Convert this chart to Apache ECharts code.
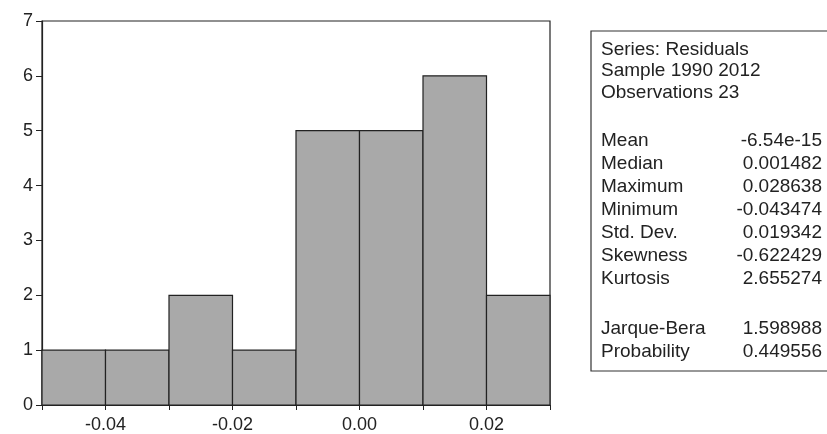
<!DOCTYPE html>
<html>
<head>
<meta charset="utf-8">
<script src="https://cdn.jsdelivr.net/npm/echarts@6/dist/echarts.min.js"></script>
<style>
  html, body { margin: 0; padding: 0; background: #fff; }
  #chart { width: 827px; height: 434px; }
</style>
</head>
<body>
<div id="chart"></div>
<script>
// histogram bins (left edges) and counts
var binStart = [-0.05, -0.04, -0.03, -0.02, -0.01, 0.00, 0.01, 0.02];
var binWidth = 0.01;
var counts = [1, 1, 2, 1, 5, 5, 6, 2];

// statistics box
var headerLines = ['Series: Residuals', 'Sample 1990 2012', 'Observations 23'];
var statLabels = ['Mean', 'Median', 'Maximum', 'Minimum', 'Std. Dev.', 'Skewness', 'Kurtosis'];
var statValues = ['-6.54e-15', '0.001482', '0.028638', '-0.043474', '0.019342', '-0.622429', '2.655274'];
var testLabels = ['Jarque-Bera', 'Probability'];
var testValues = ['1.598988', '0.449556'];

var chart = echarts.init(document.getElementById('chart'));

var font = 'Liberation Sans, Arial, sans-serif';
var txt = { fill: '#222', font: '19px ' + font };

var graphics = [{
  type: 'rect',
  shape: { x: 591, y: 31, width: 245, height: 340 },
  style: { fill: 'none', stroke: '#333', lineWidth: 1.2 }
}];
headerLines.forEach(function (s, i) {
  graphics.push({ type: 'text', left: 601, top: 40 + i * 21.5, style: Object.assign({ text: s }, txt) });
});
statLabels.forEach(function (s, i) {
  graphics.push({ type: 'text', left: 601, top: 131 + i * 23, style: Object.assign({ text: s }, txt) });
  graphics.push({ type: 'text', right: 5, top: 131 + i * 23, style: Object.assign({ text: statValues[i], textAlign: 'right' }, txt) });
});
testLabels.forEach(function (s, i) {
  graphics.push({ type: 'text', left: 601, top: 319 + i * 23, style: Object.assign({ text: s }, txt) });
  graphics.push({ type: 'text', right: 5, top: 319 + i * 23, style: Object.assign({ text: testValues[i], textAlign: 'right' }, txt) });
});

var option = {
  backgroundColor: '#fff',
  animation: false,
  grid: { left: 42, right: 277, top: 21, bottom: 25, show: true, borderColor: '#222', borderWidth: 1.2 },
  xAxis: {
    type: 'value',
    min: -0.05,
    max: 0.03,
    interval: 0.01,
    axisLine: { show: true, lineStyle: { color: '#222', width: 1.2 } },
    axisTick: { show: true, length: 5, lineStyle: { color: '#222' } },
    splitLine: { show: false },
    axisLabel: {
      color: '#222',
      fontFamily: font,
      fontSize: 18,
      margin: 11,
      formatter: function (v) {
        var k = Math.round(v * 100);
        if (k % 2 !== 0) return '';
        return (k / 100).toFixed(2);
      }
    }
  },
  yAxis: {
    type: 'value',
    min: 0,
    max: 7,
    interval: 1,
    axisLine: { show: true, onZero: false, lineStyle: { color: '#222', width: 1.2 } },
    axisTick: { show: true, length: 6, lineStyle: { color: '#222' } },
    splitLine: { show: false },
    axisLabel: { color: '#222', fontFamily: font, fontSize: 18, margin: 9 }
  },
  series: [{
    type: 'custom',
    data: binStart.map(function (b, i) { return [b, b + binWidth, counts[i]]; }),
    encode: { x: [0, 1], y: 2 },
    renderItem: function (params, api) {
      var p0 = api.coord([api.value(0), api.value(2)]);
      var p1 = api.coord([api.value(1), 0]);
      return {
        type: 'rect',
        shape: { x: p0[0], y: p0[1], width: p1[0] - p0[0], height: p1[1] - p0[1] },
        style: { fill: '#a9a9a9', stroke: '#222', lineWidth: 1.2 }
      };
    }
  }],
  graphic: graphics
};

chart.setOption(option);
</script>
</body>
</html>
